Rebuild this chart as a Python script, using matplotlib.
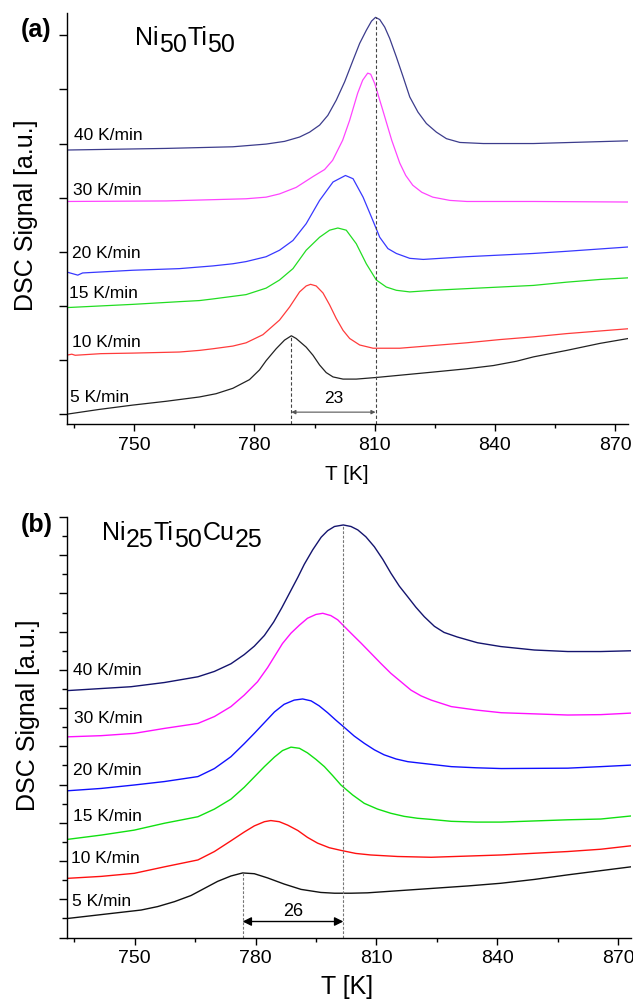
import matplotlib
matplotlib.use("Agg")
from matplotlib import pyplot as plt
from matplotlib.ticker import MultipleLocator, NullLocator
import numpy as np

plt.rcParams['font.family'] = ['Liberation Sans', 'DejaVu Sans']

rates = ["5 K/min", "10 K/min", "15 K/min", "20 K/min", "30 K/min", "40 K/min"]
colors_a = ["#222222", "#ff3b3b", "#22dd22", "#3838ff", "#ff44ff", "#3c3c8c"]
colors_b = ["#111111", "#ff1010", "#10e010", "#1010ff", "#ff10ff", "#14146e"]

# ---------------- (a) Ni50Ti50 ----------------
a_T = {}
a_S = {}
a_T["5 K/min"] = [733, 741.25, 749.6, 757.9, 766.25, 770.4, 774.6, 778.75, 781.25, 782.9, 785.4, 787.5, 789.2,
                  790.4, 792.9, 794.6, 796.25, 797.9, 799.6, 802.1, 805.4, 810.4, 824.6, 832.9, 839.6, 845.4,
                  849.6, 857.9, 866.25, 873.3]
a_S["5 K/min"] = [0.0, 0.09, 0.17, 0.24, 0.32, 0.38, 0.48, 0.64, 0.82, 0.99, 1.21, 1.37, 1.45,
                  1.40, 1.24, 1.09, 0.91, 0.77, 0.69, 0.65, 0.65, 0.68, 0.78, 0.84, 0.90, 0.98,
                  1.06, 1.18, 1.31, 1.40]
a_T["10 K/min"] = [733, 734.4, 735.25, 741.7, 749.6, 761.25, 766.25, 769.6, 774.6, 777.9, 782.1, 786.25, 788.75,
                   791.25, 792.9, 794, 795.4, 797.1, 798.75, 800.4, 802.1, 803.75, 806.25, 809.6, 816.25,
                   824.6, 832.9, 841.25, 849.6, 857.9, 873.3]
a_S["10 K/min"] = [1.09, 1.11, 1.09, 1.12, 1.13, 1.15, 1.18, 1.21, 1.26, 1.32, 1.47, 1.74, 1.98,
                   2.26, 2.37, 2.40, 2.37, 2.24, 2.02, 1.77, 1.55, 1.40, 1.28, 1.22, 1.22,
                   1.27, 1.32, 1.38, 1.43, 1.49, 1.58]
a_T["15 K/min"] = [733, 749.6, 761.25, 766.25, 769.6, 777.9, 782.9, 786.25, 789.6, 792.9, 796.25, 798.75, 800.8,
                   802.9, 805.4, 807.9, 810.4, 812.9, 815.4, 818.75, 824.6, 832.9, 841.25, 849.6, 857.9,
                   866.25, 873.3]
a_S["15 K/min"] = [1.97, 2.03, 2.08, 2.10, 2.13, 2.21, 2.33, 2.48, 2.69, 3.03, 3.27, 3.40, 3.44,
                   3.40, 3.15, 2.78, 2.48, 2.35, 2.29, 2.26, 2.29, 2.32, 2.35, 2.38, 2.44,
                   2.49, 2.52]
a_T["20 K/min"] = [733, 735.9, 737.1, 749.6, 761.25, 766.25, 769.6, 774.6, 777.9, 782.9, 786.25, 789.6, 792.9,
                   796.25, 799.6, 802.7, 804.6, 807.1, 809.2, 811.25, 813.3, 815.4, 818.75, 822.1, 832.9,
                   841.25, 849.6, 857.9, 873.3]
a_S["20 K/min"] = [2.63, 2.57, 2.61, 2.66, 2.69, 2.72, 2.74, 2.78, 2.82, 2.91, 3.03, 3.21, 3.52,
                   3.95, 4.29, 4.41, 4.35, 4.01, 3.64, 3.27, 3.06, 2.97, 2.88, 2.86, 2.91,
                   2.94, 2.97, 3.01, 3.09]
a_T["30 K/min"] = [733, 758, 777.9, 782.9, 786.25, 790.4, 794.6, 797.5, 799.5, 802, 803.75, 805.75,
                   807, 808.25, 809, 810, 812, 814.25, 816.25, 817.75, 819.5, 821.75, 824.5, 828.75,
                   833, 849.6, 873.3]
a_S["30 K/min"] = [3.93, 3.94, 3.98, 4.01, 4.07, 4.19, 4.39, 4.52, 4.69, 5.06, 5.43, 5.93,
                   6.17, 6.30, 6.28, 6.11, 5.62, 5.06, 4.64, 4.41, 4.23, 4.10, 4.01, 3.95,
                   3.93, 3.93, 3.92]
a_T["40 K/min"] = [733, 758, 774.6, 782.9, 787.5, 791.25, 793.75, 796.25, 798.3, 800.4, 802.5, 804.6, 806.25, 807.9,
                   809.2, 810.2, 811.25, 812.5, 813.75, 815.4, 817.1, 818.75, 820.8, 822.9, 825.4, 827.9,
                   831.25, 837.1, 849.6, 873.3]
a_S["40 K/min"] = [4.88, 4.91, 4.94, 4.99, 5.04, 5.12, 5.21, 5.34, 5.52, 5.80, 6.14, 6.54, 6.85, 7.09,
                   7.26, 7.33, 7.29, 7.15, 6.94, 6.60, 6.23, 5.86, 5.58, 5.37, 5.21, 5.09,
                   5.02, 5.00, 5.00, 5.05]
a_label_T = [734.0, 734.5, 733.75, 734.5, 734.75, 735.0]
a_label_S = [0.31, 1.33, 2.23, 2.97, 4.14, 5.15]
a_arrow_S = 0.04
a_shift = "23"

# ---------------- (b) Ni25Ti50Cu25 ----------------
b_T = {}
b_S = {}
b_T["5 K/min"] = [733.4, 743.3, 751.6, 755.7, 759.9, 764, 768.1, 770.6, 773.9, 776.8, 779.7, 783, 787.1, 791.3,
                  796.2, 799.6, 803.7, 807.8, 816.1, 824.4, 832.7, 840.9, 849.2, 857.5, 865.7, 873.2]
b_S["5 K/min"] = [0.50, 0.62, 0.72, 0.81, 0.94, 1.10, 1.33, 1.47, 1.61, 1.69, 1.67, 1.56, 1.40, 1.26,
                  1.18, 1.16, 1.16, 1.17, 1.23, 1.29, 1.35, 1.42, 1.52, 1.64, 1.75, 1.85]
b_T["10 K/min"] = [733.5, 741.7, 749.9, 757.4, 765.7, 769.8, 773.9, 777.2, 779.7, 782.2, 783.8, 785.9, 788,
                   790.5, 792.9, 795.4, 798.3, 801.2, 804.9, 808.6, 815.3, 823.6, 841, 857.5, 865.7, 873.2]
b_S["10 K/min"] = [1.55, 1.60, 1.68, 1.85, 2.03, 2.25, 2.53, 2.76, 2.92, 3.03, 3.06, 3.03, 2.94,
                   2.80, 2.62, 2.47, 2.35, 2.28, 2.20, 2.16, 2.12, 2.10, 2.16, 2.25, 2.31, 2.40]
b_T["15 K/min"] = [733.5, 741.7, 749.9, 757.4, 765.7, 769.8, 773.9, 777.2, 779.7, 782.2, 784.7, 786.7, 788.8,
                   790.9, 792.9, 795, 797.1, 799.2, 801.2, 804.1, 807, 810.3, 813.6, 816.9, 820.2, 823.6,
                   828.6, 834.8, 841, 857.5, 865.7, 873.2]
b_S["15 K/min"] = [2.57, 2.68, 2.81, 2.99, 3.16, 3.36, 3.62, 3.93, 4.20, 4.47, 4.72, 4.89, 4.98,
                   4.95, 4.83, 4.66, 4.47, 4.23, 3.99, 3.73, 3.51, 3.36, 3.25, 3.17, 3.12, 3.09,
                   3.04, 3.02, 3.02, 3.08, 3.10, 3.18]
b_T["20 K/min"] = [733.5, 741.7, 749.9, 757.4, 765.7, 769.8, 773.9, 777.2, 779.7, 782.2, 784.7, 787.1, 789.6,
                   791.7, 793.8, 795.8, 797.9, 799.9, 802, 804.5, 807, 809.5, 811.9, 814.9, 817.8, 821.1,
                   823.6, 828.6, 834.8, 841, 857.5, 865.7, 873.2]
b_S["20 K/min"] = [3.84, 3.90, 3.99, 4.08, 4.21, 4.42, 4.73, 5.07, 5.34, 5.62, 5.90, 6.10, 6.21,
                   6.24, 6.19, 6.06, 5.88, 5.69, 5.50, 5.27, 5.08, 4.91, 4.78, 4.67, 4.60, 4.56,
                   4.53, 4.47, 4.44, 4.42, 4.43, 4.47, 4.51]
b_T["30 K/min"] = [733.5, 741.7, 749.9, 757.4, 765.7, 769.8, 773.9, 777.2, 780.5, 783, 784.7, 786.7, 788.8,
                   790.9, 792.9, 795, 796.7, 798.7, 800.4, 802, 803.7, 806.2, 808.7, 811.1, 813.6, 816.1,
                   818.6, 821.1, 823.6, 828.6, 834.8, 841, 857.5, 865.7, 873.2]
b_S["30 K/min"] = [5.25, 5.28, 5.34, 5.47, 5.60, 5.78, 6.04, 6.34, 6.69, 7.06, 7.35, 7.69, 7.96,
                   8.17, 8.35, 8.45, 8.48, 8.42, 8.31, 8.14, 7.96, 7.70, 7.43, 7.17, 6.91, 6.69,
                   6.47, 6.32, 6.21, 6.04, 5.95, 5.88, 5.82, 5.83, 5.87]
b_T["40 K/min"] = [733.5, 749.1, 757.4, 765.7, 769.8, 773.9, 777.2, 779.7, 782.2, 784.5, 786.5, 788.5, 790.5,
                   792.1, 794.2, 796.3, 797.9, 799.6, 801.8, 803.7, 805.4, 807.4, 809.5, 811.6, 813.6,
                   815.7, 817.8, 819.8, 821.9, 824.4, 826.8, 830.1, 835.1, 840.9, 849.2, 857.5, 865.7, 873.2]
b_S["40 K/min"] = [6.46, 6.56, 6.67, 6.82, 6.96, 7.16, 7.40, 7.62, 7.90, 8.25, 8.62, 9.02, 9.42,
                   9.76, 10.14, 10.47, 10.64, 10.75, 10.79, 10.75, 10.66, 10.48, 10.22, 9.89, 9.53,
                   9.19, 8.91, 8.64, 8.39, 8.14, 7.98, 7.86, 7.71, 7.61, 7.52, 7.48, 7.48, 7.50]
b_label_T = [734.5, 734.2, 734.7, 734.7, 735.0, 734.7]
b_label_S = [0.94, 2.07, 3.16, 4.38, 5.72, 6.98]
b_arrow_S = 0.42
b_shift = "26"

x_ticks = [750, 780, 810, 840, 870]

fig = plt.figure(figsize=(6.33, 10.02), dpi=100)
ax1 = fig.add_axes([0.1058, 0.5768, 0.8862, 0.4102])
ax2 = fig.add_axes([0.1058, 0.0643, 0.891, 0.4198])


def peak(T, S, hi):
    # temperature and height of the exothermic peak below T=hi
    T = np.asarray(T)
    S = np.asarray(S)
    m = T < hi
    i = int(np.argmax(S[m]))
    return T[m][i], S[m][i]


def chem(ax, x, y, parts, size):
    # parts: list of (text, is_subscript)
    t = ax.text(x, y, parts[0][0], transform=ax.transAxes, fontsize=size, va='baseline', ha='left')
    prev_sub = parts[0][1]
    for s, sub in parts[1:]:
        dy = 0
        if sub and not prev_sub:
            dy = -5
        elif prev_sub and not sub:
            dy = 5
        t = ax.annotate(s, xy=(1, 0), xycoords=t, xytext=(0.3, dy), textcoords='offset points',
                        fontsize=size, va='bottom', ha='left')
        prev_sub = sub


def style(ax):
    ax.spines['top'].set_visible(False)
    ax.spines['right'].set_visible(False)
    for s in ['left', 'bottom']:
        ax.spines[s].set_linewidth(1.0)
    ax.set_xlim(733.2, 873.2)
    ax.set_xticks(x_ticks)
    ax.xaxis.set_minor_locator(MultipleLocator(15))
    ax.tick_params(axis='x', which='major', direction='out', length=5, width=1.0, labelsize=14, pad=4)
    ax.tick_params(axis='x', which='minor', direction='out', length=3, width=1.0)


# panel a
for i, r in enumerate(rates):
    ax1.plot(a_T[r], a_S[r], color=colors_a[i], lw=0.9)
    ax1.text(a_label_T[i], a_label_S[i], r, fontsize=12.5, va='center', ha='left')
style(ax1)
ax1.set_ylim(-0.18, 7.41)
ax1.set_yticks(range(0, 8))
ax1.set_yticklabels([])
ax1.yaxis.set_minor_locator(NullLocator())
ax1.tick_params(axis='y', which='major', direction='out', length=6, width=1.0)
pa_lo, ha_lo = peak(a_T["5 K/min"], a_S["5 K/min"], 800)
pa_hi, ha_hi = peak(a_T["40 K/min"], a_S["40 K/min"], 830)
ax1.vlines(pa_lo, -0.18, ha_lo, colors='#444444', linestyles=(0, (3, 2)), lw=0.8)
ax1.vlines(pa_hi, -0.18, ha_hi, colors='#444444', linestyles=(0, (3, 2)), lw=0.8)
ax1.annotate('', xy=(pa_lo, a_arrow_S), xytext=(pa_hi, a_arrow_S),
             arrowprops=dict(arrowstyle='<|-|>', color='#555555', lw=0.8, mutation_scale=6,
                             shrinkA=0, shrinkB=0))
ax1.text((pa_lo + pa_hi) / 2, a_arrow_S + 0.26, a_shift, fontsize=12.5, ha='center', va='center')
ax1.set_xlabel("T [K]", fontsize=15)
ax1.xaxis.set_label_coords(0.499, -0.10)
ax1.set_ylabel("DSC Signal [a.u.]", fontsize=18)
ax1.yaxis.set_label_coords(-0.052, 0.508)
chem(ax1, 0.121, 0.922, [("Ni", False), ("50", True), ("Ti", False), ("50", True)], 18)

# panel b
for i, r in enumerate(rates):
    ax2.plot(b_T[r], b_S[r], color=colors_b[i], lw=1.0)
    ax2.text(b_label_T[i], b_label_S[i], r, fontsize=12.5, va='center', ha='left')
style(ax2)
ax2.set_ylim(0, 11)
ax2.yaxis.set_major_locator(MultipleLocator(1))
ax2.yaxis.set_minor_locator(MultipleLocator(0.5))
ax2.set_yticklabels([])
ax2.tick_params(axis='y', which='major', direction='out', length=6, width=1.0)
ax2.tick_params(axis='y', which='minor', direction='out', length=3.5, width=1.0)
pb_lo, hb_lo = peak(b_T["5 K/min"], b_S["5 K/min"], 800)
pb_hi, hb_hi = peak(b_T["40 K/min"], b_S["40 K/min"], 830)
ax2.vlines(pb_lo, 0, hb_lo, colors='#777777', linestyles=(0, (2.5, 1.5)), lw=0.8)
ax2.vlines(pb_hi, 0, hb_hi, colors='#777777', linestyles=(0, (2.5, 1.5)), lw=0.8)
ax2.annotate('', xy=(pb_lo, b_arrow_S), xytext=(pb_hi, b_arrow_S),
             arrowprops=dict(arrowstyle='<|-|>', color='black', lw=1.0, mutation_scale=13,
                             shrinkA=0, shrinkB=0))
ax2.text((pb_lo + pb_hi) / 2, b_arrow_S + 0.27, b_shift, fontsize=13, ha='center', va='center')
ax2.set_xlabel("T [K]", fontsize=18)
ax2.xaxis.set_label_coords(0.496, -0.089)
ax2.set_ylabel("DSC Signal [a.u.]", fontsize=18)
ax2.yaxis.set_label_coords(-0.048, 0.529)
chem(ax2, 0.0615, 0.945, [("Ni", False), ("25", True), ("Ti", False), ("50", True), ("Cu", False), ("25", True)], 18)

fig.text(0.033, 0.970, "(a)", fontsize=18, fontweight='bold', va='center', ha='left')
fig.text(0.033, 0.476, "(b)", fontsize=18, fontweight='bold', va='center', ha='left')

fig.savefig("out.png", dpi=100)
